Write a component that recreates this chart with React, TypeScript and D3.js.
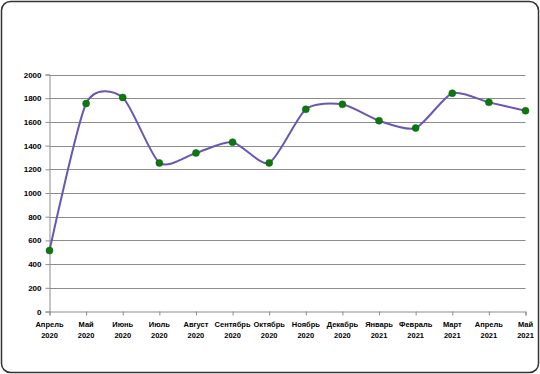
import { useEffect, useRef } from "react";
import * as d3 from "d3";

const months = [
  "Апрель", "Май", "Июнь", "Июль", "Август", "Сентябрь", "Октябрь",
  "Ноябрь", "Декабрь", "Январь", "Февраль", "Март", "Апрель", "Май",
];
const years = [
  "2020", "2020", "2020", "2020", "2020", "2020", "2020",
  "2020", "2020", "2021", "2021", "2021", "2021", "2021",
];
const values = [515, 1755, 1806, 1254, 1338, 1429, 1254, 1706, 1748, 1610, 1548, 1842, 1765, 1694];
const yTicks = [0, 200, 400, 600, 800, 1000, 1200, 1400, 1600, 1800, 2000];

export default function App() {
  const ref = useRef<SVGSVGElement>(null);

  useEffect(() => {
    if (!ref.current) return;
    const svg = d3.select(ref.current);
    svg.selectAll("*").remove();

    const width = 540;
    const height = 374;
    const left = 49.5;
    const right = 525.5;
    const top = 74.5;
    const bottom = 311.5;
    const font = "'Liberation Sans', Arial, sans-serif";

    // outer frame
    svg
      .append("rect")
      .attr("x", 1.5)
      .attr("y", 1.5)
      .attr("width", width - 3)
      .attr("height", height - 3)
      .attr("rx", 9)
      .attr("fill", "#fff")
      .attr("stroke", "#333")
      .attr("stroke-width", 1.5);

    const keys = months.map((_, i) => String(i));
    const x = d3.scalePoint<string>().domain(keys).range([left, right]);
    const y = d3.scaleLinear().domain([0, 2000]).range([bottom, top]);

    // gridlines
    svg
      .append("g")
      .selectAll("line")
      .data(yTicks.filter((t) => t > 0))
      .enter()
      .append("line")
      .attr("x1", left)
      .attr("x2", right)
      .attr("y1", (d) => Math.round(y(d)) + 0.5)
      .attr("y2", (d) => Math.round(y(d)) + 0.5)
      .attr("stroke", "#8c8c8c")
      .attr("stroke-width", 1);

    // y axis
    const yAxis = svg
      .append("g")
      .attr("transform", `translate(${left},0)`)
      .call(d3.axisLeft(y).tickValues(yTicks).tickSize(4).tickPadding(4).tickFormat(d3.format("d")));
    yAxis.select(".domain").attr("stroke", "#8c8c8c");
    yAxis.selectAll(".tick line").attr("stroke", "#8c8c8c");
    yAxis
      .selectAll("text")
      .style("font-family", font)
      .style("font-size", "8px")
      .style("font-weight", "bold")
      .attr("fill", "#000");

    // x axis
    const xAxis = svg
      .append("g")
      .attr("transform", `translate(0,${bottom})`)
      .call(d3.axisBottom(x).tickSize(4).tickFormat(() => ""));
    xAxis.select(".domain").attr("stroke", "#8c8c8c");
    xAxis.selectAll(".tick line").attr("stroke", "#8c8c8c");

    const labels = svg
      .append("g")
      .selectAll("text")
      .data(keys)
      .enter()
      .append("text")
      .attr("x", (d) => x(d)!)
      .attr("text-anchor", "middle")
      .style("font-family", font)
      .style("font-size", "7.5px")
      .style("font-weight", "bold")
      .attr("fill", "#000");
    labels
      .append("tspan")
      .attr("x", (d) => x(d)!)
      .attr("y", 327)
      .text((d) => months[+d]);
    labels
      .append("tspan")
      .attr("x", (d) => x(d)!)
      .attr("y", 337.5)
      .text((d) => years[+d]);

    // smoothed line
    const line = d3
      .line<number>()
      .x((_, i) => x(String(i))!)
      .y((d) => y(d))
      .curve(d3.curveCardinal.tension(0.3));

    svg
      .append("path")
      .datum(values)
      .attr("d", line)
      .attr("fill", "none")
      .attr("stroke", "#6a56b4")
      .attr("stroke-width", 2);

    // markers
    svg
      .append("g")
      .selectAll("circle")
      .data(values)
      .enter()
      .append("circle")
      .attr("cx", (_, i) => x(String(i))!)
      .attr("cy", (d) => y(d))
      .attr("r", 3.5)
      .attr("fill", "#0b7a0b")
      .attr("stroke", "#0a5f0a")
      .attr("stroke-width", 0.5);
  }, []);

  return (
    <svg
      ref={ref}
      width={540}
      height={374}
      style={{ position: "absolute", left: 0, top: 0, display: "block" }}
    />
  );
}
